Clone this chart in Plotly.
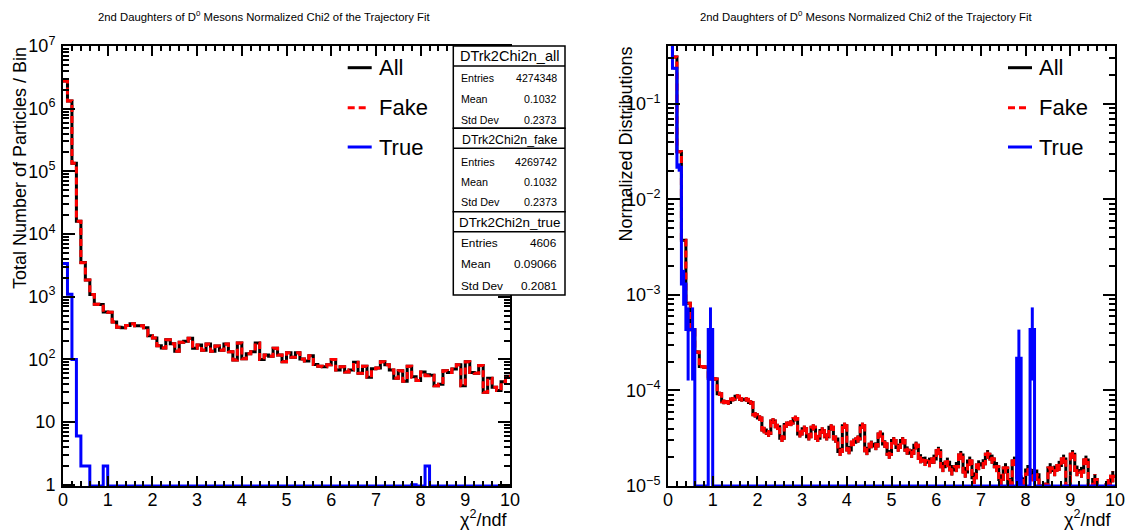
import math
import plotly.graph_objects as go

# ---------------- data ----------------
bin_edges = [round(0.1 * i, 1) for i in range(101)]

all_counts = [
    2773227, 1330000, 135000, 16000, 3500, 1850, 1080, 760, 750, 570,
    565, 395, 325, 320, 347, 372, 345, 345, 320, 238,
    220, 165, 152, 205, 178, 135, 188, 195, 218, 150,
    170, 140, 176, 135, 163, 140, 176, 133, 98, 183,
    102, 123, 133, 183, 100, 117, 112, 150, 118, 92,
    128, 108, 128, 101, 94, 114, 83, 78, 76, 82,
    100, 68, 76, 63, 68, 90, 60, 78, 52, 71,
    73, 92, 82, 68, 50, 66, 45, 78, 53, 46,
    63, 57, 56, 38, 40, 66, 62, 70, 82, 38,
    92, 62, 60, 80, 30, 50, 36, 32, 44, 54,
]
fake_counts = [
    2769826, 1328910, 134900, 15994, 3498, 1848, 1080, 760, 750, 568,
    565, 395, 325, 320, 347, 372, 345, 345, 320, 238,
    220, 165, 152, 205, 178, 135, 188, 195, 218, 150,
    170, 140, 176, 135, 163, 140, 176, 133, 98, 183,
    102, 123, 133, 183, 100, 117, 112, 150, 118, 92,
    128, 108, 128, 101, 94, 114, 83, 78, 76, 82,
    100, 68, 76, 63, 68, 90, 60, 78, 52, 71,
    73, 92, 82, 68, 50, 66, 45, 78, 52, 46,
    63, 55, 56, 38, 40, 66, 62, 70, 82, 38,
    92, 62, 60, 80, 30, 50, 36, 32, 44, 54,
]
true_counts = [
    3401, 1090, 100, 6, 2, 2, 0, 0, 0, 2,
    0, 0, 0, 0, 0, 0, 0, 0, 0, 0,
    0, 0, 0, 0, 0, 0, 0, 0, 0, 0,
    0, 0, 0, 0, 0, 0, 0, 0, 0, 0,
    0, 0, 0, 0, 0, 0, 0, 0, 0, 0,
    0, 0, 0, 0, 0, 0, 0, 0, 0, 0,
    0, 0, 0, 0, 0, 0, 0, 0, 0, 0,
    0, 0, 0, 0, 0, 0, 0, 0, 1, 0,
    0, 2, 0, 0, 0, 0, 0, 0, 0, 0,
    0, 0, 0, 0, 0, 0, 0, 0, 0, 0,
]

series_names = ["All", "Fake", "True"]
stat_titles = ["DTrk2Chi2n_all", "DTrk2Chi2n_fake", "DTrk2Chi2n_true"]
stat_entries = ["4274348", "4269742", "4606"]
stat_means = ["0.1032", "0.1032", "0.09066"]
stat_stddevs = ["0.2373", "0.2373", "0.2081"]

# ---------------- layout helpers ----------------
W, H = 1128, 531
FONT = "Liberation Sans, Arial, sans-serif"


def px(x):
    return x / W


def py(y):
    return 1 - y / H


LEFT_LOG = (-0.02, 7.0)
RIGHT_LOG = (-5.0, -0.393)
left_floor = 10 ** LEFT_LOG[0]
right_floor = 10 ** RIGHT_LOG[0]

colors = ["#000000", "#ff0000", "#0000ff"]
dashes = ["solid", "7px,4px", "solid"]
LW = 3


def step_xy(vals, floor):
    ys = [v if v > 0 else floor for v in vals]
    return list(bin_edges), ys + [ys[-1]]


fig = go.Figure()

# left panel: raw counts
for vals, c, d, n in zip([all_counts, fake_counts, true_counts], colors, dashes, series_names):
    xs, ys = step_xy(vals, left_floor)
    fig.add_trace(go.Scatter(x=xs, y=ys, mode="lines", line=dict(color=c, width=LW, dash=d, shape="hv"),
                             xaxis="x", yaxis="y", name=n, showlegend=False, hoverinfo="skip"))

# right panel: normalized with error bars
for vals, c, d, n in zip([all_counts, fake_counts, true_counts], colors, dashes, series_names):
    tot = float(sum(vals))
    norm = [v / tot for v in vals]
    xs, ys = step_xy(norm, right_floor)
    fig.add_trace(go.Scatter(x=xs, y=ys, mode="lines", line=dict(color=c, width=LW, dash=d, shape="hv"),
                             xaxis="x2", yaxis="y2", name=n, showlegend=False, hoverinfo="skip"))
    ex, ey = [], []
    for i, v in enumerate(vals):
        if v <= 0:
            continue
        cen = 0.5 * (bin_edges[i] + bin_edges[i + 1])
        err = math.sqrt(v)
        lo = max((v - err) / tot, right_floor)
        hi = (v + err) / tot
        ex += [cen, cen, None]
        ey += [lo, hi, None]
    fig.add_trace(go.Scatter(x=ex, y=ey, mode="lines", line=dict(color=c, width=LW, dash=d),
                             xaxis="x2", yaxis="y2", showlegend=False, hoverinfo="skip"))


def xaxis_cfg(x0, x1, anchor):
    return dict(domain=[px(x0), px(x1)], range=[0, 10], anchor=anchor, automargin=False,
                showline=True, linecolor="black", linewidth=2,
                mirror="ticks", ticks="inside", ticklen=10, tickwidth=1.5, tickcolor="black",
                tick0=0, dtick=1, showgrid=False, zeroline=False, ticklabelstandoff=-4,
                tickfont=dict(family=FONT, size=18, color="black"),
                minor=dict(ticks="inside", ticklen=5, tickwidth=1.5, tickcolor="black", tick0=0, dtick=0.2,
                           showgrid=False))


def log_minor_vals(lo, hi):
    vals = []
    for e in range(int(math.floor(lo)) - 1, int(math.ceil(hi)) + 1):
        for k in range(2, 10):
            vals.append(k * 10 ** e)
    return vals


def sup_label(e):
    if e == 0:
        return "1"
    if e == 1:
        return "10"
    return "10<sup>%s</sup>" % (str(e) if e > 0 else "\u2212" + str(-e))


def yaxis_cfg(rng, exps, anchor, labels):
    return dict(domain=[py(486), py(46)], type="log", range=list(rng), anchor=anchor, automargin=False,
                showline=True, linecolor="black", linewidth=2, mirror="ticks",
                ticks="inside", ticklen=12, tickwidth=1.5, tickcolor="black",
                tickmode="array", tickvals=[10 ** e for e in exps], ticktext=labels,
                showgrid=False, zeroline=False, ticklabelstandoff=2,
                tickfont=dict(family=FONT, size=18, color="black"),
                minor=dict(ticks="inside", ticklen=6, tickwidth=1.5, tickcolor="black",
                           tickmode="array", tickvals=log_minor_vals(*rng), showgrid=False))


left_exps = list(range(0, 8))
right_exps = list(range(-5, 0))

fig.update_layout(
    template="none",
    width=W, height=H, autosize=False,
    margin=dict(l=0, r=0, t=0, b=0, pad=0),
    paper_bgcolor="white", plot_bgcolor="white",
    xaxis=xaxis_cfg(63, 510, "y"),
    yaxis=yaxis_cfg(LEFT_LOG, left_exps, "x", [sup_label(e) for e in left_exps]),
    xaxis2=xaxis_cfg(668, 1115, "y2"),
    yaxis2=yaxis_cfg(RIGHT_LOG, right_exps, "x2", [sup_label(e) for e in right_exps]),
    showlegend=False,
)

shapes = []
annotations = []

# titles
title_text = "2nd Daughters of D<sup>0</sup> Mesons Normalized Chi2 of the Trajectory Fit"
for cx in (264, 866):
    annotations.append(dict(x=px(cx), y=py(16), xref="paper", yref="paper", text=title_text,
                            showarrow=False, xanchor="center", yanchor="middle",
                            font=dict(family=FONT, size=11.3, color="black")))

# y titles
for cx, txt in ((20, "Total Number of Particles / Bin"), (625, "Normalized Distributions")):
    annotations.append(dict(x=px(cx), y=py(45), xref="paper", yref="paper", text=txt, textangle=-90,
                            showarrow=False, xanchor="center", yanchor="top",
                            font=dict(family=FONT, size=18, color="black")))

# x titles
for rx in (509, 1113):
    annotations.append(dict(x=px(rx), y=py(518), xref="paper", yref="paper", text="\u03c7<sup>2</sup>/ndf",
                            showarrow=False, xanchor="right", yanchor="middle",
                            font=dict(family=FONT, size=18, color="black")))

# legends
leg_y = [67.7, 107.7, 147]
for off in (0, 660.3):
    for n, c, d, yy in zip(series_names, colors, dashes, leg_y):
        x1 = 371.7 if n != "Fake" else 367
        shapes.append(dict(type="line", xref="paper", yref="paper", x0=px(347.7 + off), x1=px(x1 + off),
                           y0=py(yy), y1=py(yy), line=dict(color=c, width=3, dash=d)))
        annotations.append(dict(x=px(376.5 + off), y=py(yy), xref="paper", yref="paper", text=n,
                                showarrow=False, xanchor="left", yanchor="middle",
                                font=dict(family=FONT, size=22, color="black")))

# stats boxes
box_tops = [46, 128.3, 211.7]
box_bots = [128.3, 211.7, 295]
head_ys = [56, 140, 222.7]
row_ys = [[78, 99.3, 120], [161.7, 181.7, 202.3], [242.7, 264.3, 285.7]]
head_sizes = [14.5, 12.3, 13.4]
row_sizes = [10.6, 10.8, 11.8]
bx0, bx1 = 453.3, 565
for i in range(3):
    shapes.append(dict(type="rect", xref="paper", yref="paper", x0=px(bx0), x1=px(bx1),
                       y0=py(box_bots[i]), y1=py(box_tops[i]), fillcolor="white",
                       line=dict(color="black", width=1.5), layer="above"))
    sep = box_tops[i] + 20
    shapes.append(dict(type="line", xref="paper", yref="paper", x0=px(bx0), x1=px(bx1),
                       y0=py(sep), y1=py(sep), line=dict(color="black", width=1.5), layer="above"))
    annotations.append(dict(x=px(509.2), y=py(head_ys[i]), xref="paper", yref="paper", text=stat_titles[i],
                            showarrow=False, xanchor="center", yanchor="middle",
                            font=dict(family=FONT, size=head_sizes[i], color="black")))
    for lab, val, yy in zip(["Entries", "Mean", "Std Dev"],
                            [stat_entries[i], stat_means[i], stat_stddevs[i]], row_ys[i]):
        annotations.append(dict(x=px(459), y=py(yy), xref="paper", yref="paper", text=lab,
                                showarrow=False, xanchor="left", yanchor="middle",
                                font=dict(family=FONT, size=row_sizes[i], color="black")))
        annotations.append(dict(x=px(558.5), y=py(yy), xref="paper", yref="paper", text=val,
                                showarrow=False, xanchor="right", yanchor="middle",
                                font=dict(family=FONT, size=row_sizes[i], color="black")))

fig.update_layout(shapes=shapes, annotations=annotations)
fig.write_html("out.html")
